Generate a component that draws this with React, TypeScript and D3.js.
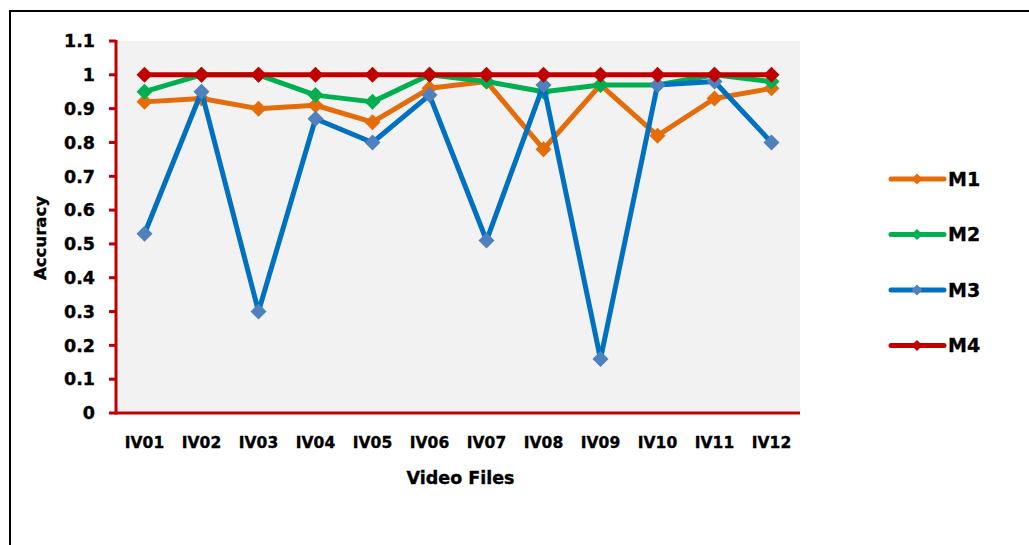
import React from "react";
import * as d3 from "d3";

const categories = ["IV01", "IV02", "IV03", "IV04", "IV05", "IV06", "IV07", "IV08", "IV09", "IV10", "IV11", "IV12"];
const m1 = [0.92, 0.93, 0.9, 0.91, 0.86, 0.96, 0.98, 0.78, 0.97, 0.82, 0.93, 0.96];
const m2 = [0.95, 1.0, 1.0, 0.94, 0.92, 1.0, 0.98, 0.95, 0.97, 0.97, 1.0, 0.98];
const m3 = [0.53, 0.95, 0.3, 0.87, 0.8, 0.94, 0.51, 0.97, 0.16, 0.97, 0.98, 0.8];
const m4 = [1.0, 1.0, 1.0, 1.0, 1.0, 1.0, 1.0, 1.0, 1.0, 1.0, 1.0, 1.0];
const yTicks = [0, 0.1, 0.2, 0.3, 0.4, 0.5, 0.6, 0.7, 0.8, 0.9, 1, 1.1];

const series = [
  { name: "M1", values: m1, line: "#E46C0A", marker: "#E46C0A" },
  { name: "M2", values: m2, line: "#00B050", marker: "#00B050" },
  { name: "M3", values: m3, line: "#0070C0", marker: "#4F81BD" },
  { name: "M4", values: m4, line: "#C00000", marker: "#C00000" },
];

const W = 1029;
const H = 545;
const plot = { left: 116, right: 800, top: 41, bottom: 413 };
const FONT = "'DejaVu Sans', sans-serif";

export default function App() {
  const x = d3.scaleBand<string>().domain(categories).range([plot.left, plot.right]);
  const y = d3.scaleLinear().domain([0, 1.1]).range([plot.bottom, plot.top]);
  const cx = (c: string) => (x(c) ?? 0) + x.bandwidth() / 2;
  const line = d3
    .line<number>()
    .x((_, i) => cx(categories[i]))
    .y((v) => y(v));
  const diamond = (s: number) => `M0,${-s}L${s},0L0,${s}L${-s},0Z`;

  return (
    <svg
      width={W}
      height={H}
      style={{ position: "absolute", left: 0, top: 0, background: "#fff" }}
      fontFamily={FONT}
      fontWeight="bold"
    >
      <rect x={10} y={11} width={1100} height={600} fill="#fff" stroke="#000" strokeWidth={2} />
      <rect
        x={plot.left}
        y={plot.top}
        width={plot.right - plot.left}
        height={plot.bottom - plot.top}
        fill="#F2F2F2"
      />

      {series.map((s) => (
        <g key={s.name}>
          <path d={line(s.values) ?? ""} fill="none" stroke={s.line} strokeWidth={5} strokeLinejoin="round" />
          {s.values.map((v, i) => (
            <path
              key={i}
              d={diamond(8)}
              transform={`translate(${cx(categories[i])},${y(v)})`}
              fill={s.marker}
            />
          ))}
        </g>
      ))}

      {/* axes */}
      <line x1={plot.left} x2={plot.left} y1={plot.top - 1} y2={plot.bottom + 1.5} stroke="#C00000" strokeWidth={3} />
      <line x1={plot.left - 1.5} x2={plot.right} y1={plot.bottom} y2={plot.bottom} stroke="#C00000" strokeWidth={3} />
      <g fill="#000" stroke="#000" strokeWidth={0.35}>
        {yTicks.map((t) => (
          <g key={t}>
            <line x1={plot.left - 7} x2={plot.left} y1={y(t)} y2={y(t)} stroke="#C00000" strokeWidth={3} />
            <text x={95} y={y(t)} dy="0.36em" textAnchor="end" fontSize={17.5}>
              {d3.format("")(Math.round(t * 10) / 10)}
            </text>
          </g>
        ))}
        {categories.map((c) => (
          <text key={c} x={cx(c)} y={448} textAnchor="middle" fontSize={15.5}>
            {c}
          </text>
        ))}
        <text x={460.5} y={484} textAnchor="middle" fontSize={17.5}>
          Video Files
        </text>
        <text transform="translate(46,238) rotate(-90)" textAnchor="middle" fontSize={16.5}>
          Accuracy
        </text>
      </g>

      {/* legend */}
      {series.map((s, i) => {
        const ly = 179 + i * 55.5;
        return (
          <g key={s.name}>
            <line x1={891} x2={944} y1={ly} y2={ly} stroke={s.line} strokeWidth={5} strokeLinecap="round" />
            <path d={diamond(5.5)} transform={`translate(917,${ly})`} fill={s.marker} />
            <text x={948} y={ly} dy="0.36em" fontSize={19} fill="#000" stroke="#000" strokeWidth={0.35}>
              {s.name}
            </text>
          </g>
        );
      })}
    </svg>
  );
}
